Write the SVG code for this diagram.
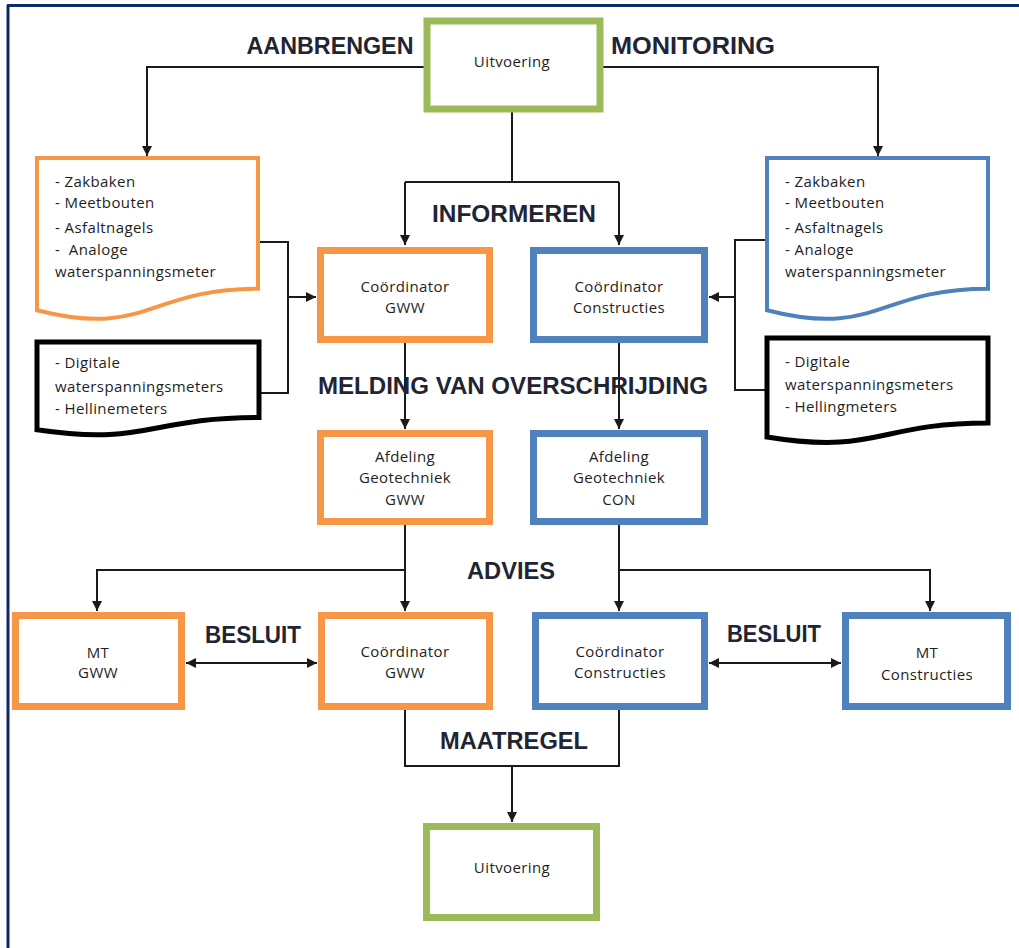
<svg xmlns="http://www.w3.org/2000/svg" width="1019" height="948" viewBox="0 0 1019 948">
<defs>
<marker id="ah" viewBox="0 0 10 10" refX="10" refY="5" markerWidth="10" markerHeight="10" markerUnits="userSpaceOnUse" orient="auto-start-reverse">
<path d="M0,0 L10,5 L0,10 Z" fill="#1a1a1a"/>
</marker>
</defs>
<style>
.bx{fill:#fff;stroke-width:7}
.or{stroke:#F79646}
.bl{stroke:#4F81BD}
.gr{stroke:#9BBB59}
.doc{fill:#fff;stroke-width:4}
.bdoc{fill:#fff;stroke:#000;stroke-width:5}
.c{fill:none;stroke:#1a1a1a;stroke-width:2}
.a{marker-end:url(#ah)}
.t{font-family:"Open Sans","Liberation Sans",sans-serif;font-size:15px;letter-spacing:0.4px;fill:#1e1e1e}
.m{text-anchor:middle}
.h{font-family:"Liberation Sans",Arial,sans-serif;font-weight:bold;font-size:24px;fill:#1f2533;text-anchor:middle}
</style>
<rect width="1019" height="948" fill="#fff"/>
<g id="frame">
<line x1="7" y1="5.5" x2="1019" y2="5.5" stroke="#10296b" stroke-width="3"/>
<line x1="8" y1="5" x2="8" y2="948" stroke="#10296b" stroke-width="3"/>
</g>
<g id="connectors">
<path class="c a" d="M424,67 H147 V156"/>
<path class="c a" d="M603,67 H878 V156"/>
<path class="c" d="M512,112 V182 M405,182 H619"/>
<path class="c a" d="M405,182 V245"/>
<path class="c a" d="M619,182 V245"/>
<path class="c" d="M258,242 H288 V393 H259"/>
<path class="c a" d="M288,297 H316"/>
<path class="c" d="M767,240 H735 V390 H767"/>
<path class="c a" d="M735,297 H709"/>
<path class="c a" d="M405,343 V429"/>
<path class="c a" d="M619,343 V429"/>
<path class="c a" d="M405,525 V611"/>
<path class="c a" d="M405,570 H97 V611"/>
<path class="c a" d="M619,525 V611"/>
<path class="c a" d="M619,570 H930 V611"/>
<path class="c a" d="M186,663 H317" marker-start="url(#ah)"/>
<path class="c a" d="M709,663 H841" marker-start="url(#ah)"/>
<path class="c" d="M405,710 V766 H619 V710"/>
<path class="c a" d="M512,766 V822"/>
</g>
<g id="labels">
<text class="h" x="330" y="53.5" textLength="167" lengthAdjust="spacingAndGlyphs">AANBRENGEN</text>
<text class="h" x="693" y="53.5" textLength="164" lengthAdjust="spacingAndGlyphs">MONITORING</text>
<text class="h" x="514" y="221.5" textLength="164" lengthAdjust="spacingAndGlyphs">INFORMEREN</text>
<text class="h" x="513" y="393.5" textLength="390" lengthAdjust="spacingAndGlyphs">MELDING VAN OVERSCHRIJDING</text>
<text class="h" x="511" y="578.5" textLength="88" lengthAdjust="spacingAndGlyphs">ADVIES</text>
<text class="h" x="253" y="643" textLength="96" lengthAdjust="spacingAndGlyphs">BESLUIT</text>
<text class="h" x="774" y="642" textLength="94" lengthAdjust="spacingAndGlyphs">BESLUIT</text>
<text class="h" x="514" y="748.5" textLength="148" lengthAdjust="spacingAndGlyphs">MAATREGEL</text>
</g>
<g id="uitvoering-top">
<rect class="bx gr" x="427" y="21" width="173" height="88"/>
<text class="t m" x="512" y="67">Uitvoering</text>
</g>
<g id="doc-aanbrengen">
<path class="doc or" d="M37,158 H258 V288.7 C147.5,288.7 147.5,338.5 37,310.2 Z"/>
<text class="t" x="55" y="187">- Zakbaken</text>
<text class="t" x="55" y="208">- Meetbouten</text>
<text class="t" x="55" y="233">- Asfaltnagels</text>
<text class="t" x="55" y="255" xml:space="preserve">-  Analoge</text>
<text class="t" x="55" y="277">waterspanningsmeter</text>
</g>
<g id="doc-digitaal-left">
<path class="bdoc" d="M37,342 H259 V417.4 C148,417.4 148,446.1 37,429.8 Z"/>
<text class="t" x="55" y="368">- Digitale</text>
<text class="t" x="55" y="392">waterspanningsmeters</text>
<text class="t" x="55" y="414">- Hellinemeters</text>
</g>
<g id="doc-monitoring">
<path class="doc bl" d="M767,158 H988 V288.7 C877.5,288.7 877.5,338.5 767,310.2 Z"/>
<text class="t" x="785" y="187">- Zakbaken</text>
<text class="t" x="785" y="208">- Meetbouten</text>
<text class="t" x="785" y="233">- Asfaltnagels</text>
<text class="t" x="785" y="255">- Analoge</text>
<text class="t" x="785" y="277">waterspanningsmeter</text>
</g>
<g id="doc-digitaal-right">
<path class="bdoc" d="M767,338 H988 V423 C877.5,423 877.5,455 767,437 Z"/>
<text class="t" x="785" y="367">- Digitale</text>
<text class="t" x="785" y="390">waterspanningsmeters</text>
<text class="t" x="785" y="412">- Hellingmeters</text>
</g>
<g id="coord-gww">
<rect class="bx or" x="320.5" y="250.5" width="169" height="89"/>
<text class="t m" x="405" y="292">Coördinator</text>
<text class="t m" x="405" y="313">GWW</text>
</g>
<g id="coord-con">
<rect class="bx bl" x="533.5" y="250.5" width="171" height="89"/>
<text class="t m" x="619" y="292">Coördinator</text>
<text class="t m" x="619" y="313">Constructies</text>
</g>
<g id="afd-gww">
<rect class="bx or" x="320.5" y="433.5" width="169" height="88"/>
<text class="t m" x="405" y="462">Afdeling</text>
<text class="t m" x="405" y="483">Geotechniek</text>
<text class="t m" x="405" y="505">GWW</text>
</g>
<g id="afd-con">
<rect class="bx bl" x="533.5" y="433.5" width="171" height="88"/>
<text class="t m" x="619" y="462">Afdeling</text>
<text class="t m" x="619" y="483">Geotechniek</text>
<text class="t m" x="619" y="505">CON</text>
</g>
<g id="mt-gww">
<rect class="bx or" x="15.5" y="615.5" width="166" height="91"/>
<text class="t m" x="98" y="658">MT</text>
<text class="t m" x="98" y="678">GWW</text>
</g>
<g id="coord-gww-2">
<rect class="bx or" x="321.5" y="615.5" width="168" height="91"/>
<text class="t m" x="405" y="657">Coördinator</text>
<text class="t m" x="405" y="678">GWW</text>
</g>
<g id="coord-con-2">
<rect class="bx bl" x="535.5" y="615.5" width="169" height="91"/>
<text class="t m" x="620" y="657">Coördinator</text>
<text class="t m" x="620" y="678">Constructies</text>
</g>
<g id="mt-con">
<rect class="bx bl" x="845.5" y="615.5" width="162" height="91"/>
<text class="t m" x="927" y="658">MT</text>
<text class="t m" x="927" y="680">Constructies</text>
</g>
<g id="uitvoering-bottom">
<rect class="bx gr" x="426.5" y="826.5" width="170" height="91"/>
<text class="t m" x="512" y="873">Uitvoering</text>
</g>
</svg>
